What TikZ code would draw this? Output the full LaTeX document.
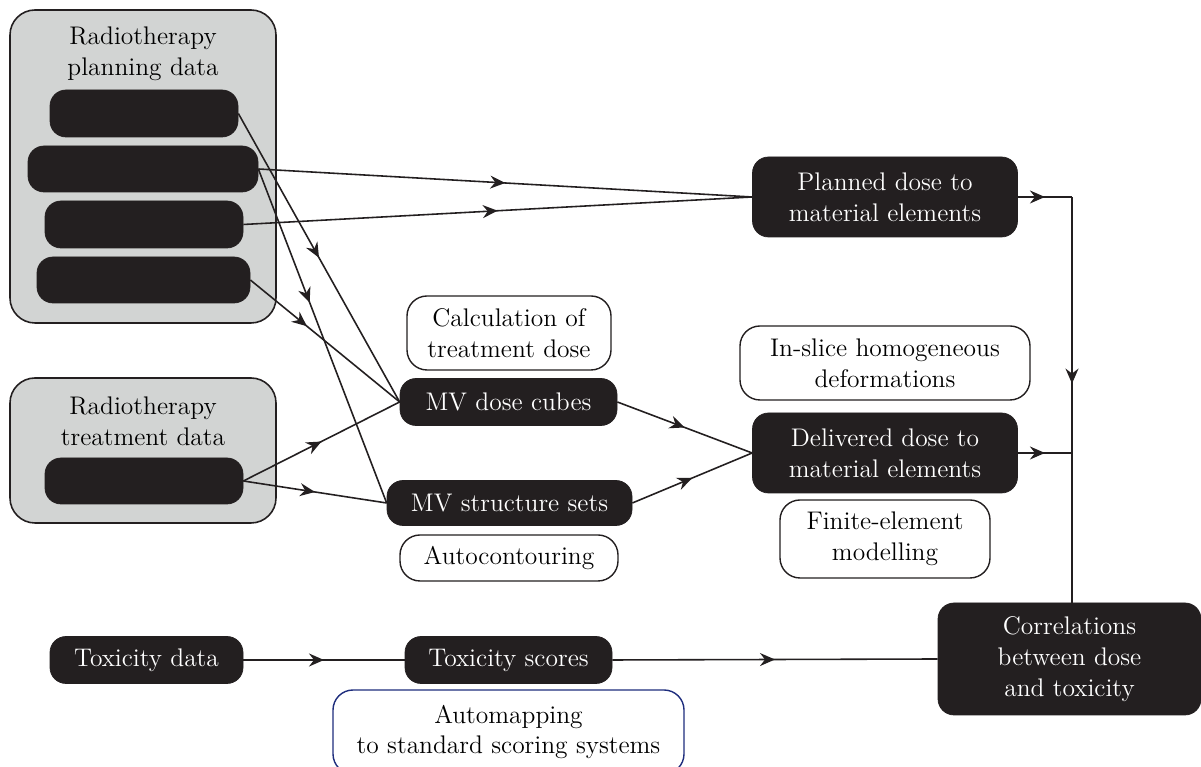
\documentclass[tikz,border=0pt]{standalone}
\usepackage{xcolor}
\definecolor{boxblack}{RGB}{35,31,32}
\definecolor{panelgray}{RGB}{210,212,211}
\definecolor{mapblue}{RGB}{30,45,125}
\usepackage{tikz}
\usetikzlibrary{arrows.meta, positioning, decorations.markings}

\tikzset{
  darkbox/.style={fill=boxblack, draw=boxblack, text=white, rounded corners=0.32cm, align=center, inner sep=0pt},
  lightbox/.style={fill=white, draw=boxblack, line width=0.8pt, rounded corners=0.4cm, align=center, inner sep=0pt},
  panel/.style={fill=panelgray, draw=boxblack, line width=0.9pt, rounded corners=0.5cm, inner sep=0pt},
  midarrow/.style={postaction={decorate}, decoration={markings, mark=at position #1 with {\arrow{Stealth[length=3mm, width=2.6mm, inset=1mm]}}}},
  midarrow/.default=0.5,
  link/.style={draw=boxblack, line width=0.9pt}
}

\begin{document}
\begin{tikzpicture}[font=\fontsize{14.5pt}{17.5pt}\selectfont]
      \useasboundingbox (0,0) rectangle (24.02,15.34);
      % Planning data panel
      \node[panel, minimum width=5.32cm, minimum height=6.26cm] (planpanel) at (2.86,12.01) {};
      \node[align=center] (plantitle) at (2.86,14.27) {Radiotherapy\\planning data};
      \node[darkbox, minimum width=3.76cm, minimum height=0.94cm] (plan1) at (2.88,13.07) {};
      \node[darkbox, minimum width=4.6cm, minimum height=0.92cm] (plan2) at (2.86,11.96) {};
      \node[darkbox, minimum width=3.96cm, minimum height=0.94cm] (plan3) at (2.88,10.85) {};
      \node[darkbox, minimum width=4.26cm, minimum height=0.92cm] (plan4) at (2.87,9.74) {};
      % Treatment data panel
      \node[panel, minimum width=5.32cm, minimum height=2.9cm] (treatpanel) at (2.86,6.33) {};
      \node[align=center] (treattitle) at (2.86,6.92) {Radiotherapy\\treatment data};
      \node[darkbox, minimum width=3.96cm, minimum height=0.92cm] (treat1) at (2.88,5.72) {};
      % Middle column
      \node[lightbox, minimum width=4.08cm, minimum height=1.48cm] (calc) at (10.18,8.68) {Calculation of\\treatment dose};
      \node[darkbox, minimum width=4.34cm, minimum height=0.94cm] (dosecubes) at (10.17,7.3) {MV dose cubes};
      \node[darkbox, minimum width=4.9cm, minimum height=0.9cm] (structsets) at (10.19,5.28) {MV structure sets};
      \node[lightbox, minimum width=4.36cm, minimum height=0.92cm] (autocont) at (10.18,4.18) {Autocontouring};
      % Right column
      \node[darkbox, minimum width=5.3cm, minimum height=1.6cm] (planned) at (17.7,11.4) {Planned dose to\\material elements};
      \node[lightbox, minimum width=5.8cm, minimum height=1.48cm] (inslice) at (17.7,8.08) {In-slice homogeneous\\deformations};
      \node[darkbox, minimum width=5.3cm, minimum height=1.6cm] (delivered) at (17.7,6.28) {Delivered dose to\\material elements};
      \node[lightbox, minimum width=4.2cm, minimum height=1.56cm] (finite) at (17.7,4.56) {Finite-element\\modelling};
      % Toxicity row
      \node[darkbox, minimum width=3.86cm, minimum height=0.94cm] (toxdata) at (2.93,2.14) {Toxicity data};
      \node[darkbox, minimum width=4.14cm, minimum height=0.94cm] (toxscores) at (10.17,2.14) {Toxicity scores};
      \node[lightbox, draw=mapblue, minimum width=7.02cm, minimum height=1.68cm] (automap) at (10.17,0.7) {Automapping\\to standard scoring systems};
      \node[darkbox, minimum width=5.26cm, minimum height=2.24cm] (corr) at (21.39,2.16) {Correlations\\between dose\\and toxicity};
      % Connectors
      \draw[link, midarrow] (plan1.east) -- (dosecubes.west);
      \draw[link, midarrow=0.4] (plan2.east) -- (structsets.west);
      \draw[link, midarrow] (plan2.east) -- (planned.west);
      \draw[link, midarrow] (plan3.east) -- (planned.west);
      \draw[link, midarrow=0.38] (plan4.east) -- (dosecubes.west);
      \draw[link, midarrow] (treat1.east) -- (dosecubes.west);
      \draw[link, midarrow] (treat1.east) -- (structsets.west);
      \draw[link, midarrow] (dosecubes.east) -- (delivered.west);
      \draw[link, midarrow] (structsets.east) -- (delivered.west);
      \draw[link, midarrow] (toxdata.east) -- (toxscores.west);
      \draw[link, midarrow] (toxscores.east) -- (corr.west);
      % Joining line on the right
      \coordinate (jtop) at (21.44,11.4);
      \coordinate (jmid) at (jtop |- delivered.east);
      \draw[link, midarrow] (planned.east) -- (jtop);
      \draw[link, midarrow] (delivered.east) -- (jmid);
      \draw[link, midarrow=0.46] (jtop) -- (jtop |- corr.north);
\end{tikzpicture}
\end{document}
